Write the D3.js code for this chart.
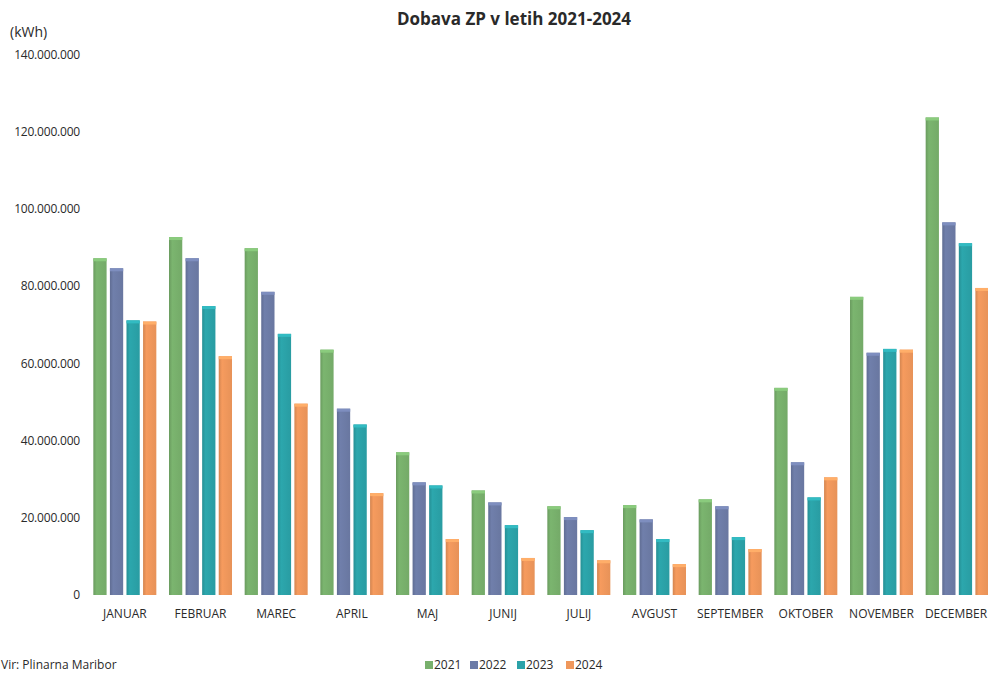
<!DOCTYPE html>
<html>
<head>
<meta charset="utf-8">
<script src="https://cdn.jsdelivr.net/npm/d3@7"></script>
<style>
  html, body { margin: 0; padding: 0; background: #fff; }
  svg { display: block; font-family: "Open Sans", "Noto Sans", sans-serif; }
</style>
</head>
<body>
<svg id="chart" width="988" height="674"></svg>
<script>
const months = ["JANUAR","FEBRUAR","MAREC","APRIL","MAJ","JUNIJ","JULIJ","AVGUST","SEPTEMBER","OKTOBER","NOVEMBER","DECEMBER"];
const years = ["2021","2022","2023","2024"];
const values2021 = [87.3, 92.8, 89.9, 63.6, 37.0, 27.1, 23.0, 23.3, 24.8, 53.7, 77.3, 123.8];
const values2022 = [84.7, 87.3, 78.6, 48.3, 29.2, 24.0, 20.2, 19.6, 23.0, 34.4, 62.8, 96.6];
const values2023 = [71.2, 74.9, 67.7, 44.2, 28.4, 18.1, 16.8, 14.5, 15.0, 25.3, 63.8, 91.2];
const values2024 = [70.9, 61.9, 49.6, 26.4, 14.5, 9.6, 9.0, 8.0, 11.9, 30.5, 63.6, 79.6];
const yTicks = [0, 20, 40, 60, 80, 100, 120, 140];
const colors = ["#78b06c", "#6d7ba6", "#2ba2a8", "#ef975b"];

const series = [values2021, values2022, values2023, values2024];
const svg = d3.select("#chart");

const y = d3.scaleLinear().domain([0, 140]).range([595, 55]);
const x0 = d3.scaleBand().domain(months).range([87, 995]).padding(0);
const groupW = 63;
const x1 = d3.scaleBand().domain(years).range([0, groupW]).paddingInner(0.2).paddingOuter(0);

const defs = svg.append("defs");
colors.forEach((c, i) => {
  const g = defs.append("linearGradient").attr("id", "g" + i).attr("x1", 0).attr("x2", 1).attr("y1", 0).attr("y2", 0);
  const base = d3.color(c);
  g.append("stop").attr("offset", "0%").attr("stop-color", base.darker(0.35));
  g.append("stop").attr("offset", "25%").attr("stop-color", base.brighter(0.08));
  g.append("stop").attr("offset", "100%").attr("stop-color", base.darker(0.1));
});

// Title
svg.append("text").attr("x", 514).attr("y", 25).attr("text-anchor", "middle")
  .attr("font-size", 17).attr("font-weight", "bold").attr("fill", "#2a2a2a")
  .text("Dobava ZP v letih 2021-2024");

svg.append("text").attr("x", 10).attr("y", 37).attr("font-size", 14).attr("fill", "#2a2a2a").text("(kWh)");

// Y axis labels
const fmt = v => v === 0 ? "0" : d3.format(",")(v * 1e6).replace(/,/g, ".");
svg.append("g").selectAll("text").data(yTicks).join("text")
  .attr("x", 80).attr("y", d => y(d) + 4).attr("text-anchor", "end")
  .attr("font-size", 12).attr("letter-spacing", -0.2).attr("fill", "#2a2a2a").text(fmt);

// Bars
const groups = svg.append("g").selectAll("g").data(months).join("g")
  .attr("transform", d => `translate(${x0(d) + (x0.bandwidth() - groupW) / 2},0)`);

groups.each(function(m, mi) {
  const g = d3.select(this);
  years.forEach((yr, si) => {
    const v = series[si][mi];
    const bx = x1(yr), bw = x1.bandwidth();
    g.append("rect").attr("x", bx).attr("y", y(v)).attr("width", bw).attr("height", y(0) - y(v))
      .attr("fill", `url(#g${si})`);
    g.append("rect").attr("x", bx).attr("y", y(v)).attr("width", bw).attr("height", 3)
      .attr("fill", d3.color(colors[si]).brighter(0.4));
  });
});

// X labels
svg.append("g").selectAll("text").data(months).join("text")
  .attr("x", d => Math.min(x0(d) + x0.bandwidth() / 2, 956)).attr("y", 618).attr("text-anchor", "middle")
  .attr("font-size", 12).attr("fill", "#2a2a2a").text(d => d);

// Source
svg.append("text").attr("x", 1).attr("y", 669).attr("font-size", 12).attr("fill", "#2a2a2a").text("Vir: Plinarna Maribor");

// Legend
const legendX = [425, 470, 517, 566];
const lg = svg.append("g").selectAll("g").data(years).join("g")
  .attr("transform", (d, i) => `translate(${legendX[i]},661)`);
lg.append("rect").attr("x", 0).attr("y", 0).attr("width", 8).attr("height", 8).attr("fill", (d, i) => colors[i]);
lg.append("text").attr("x", 9).attr("y", 8).attr("font-size", 12).attr("fill", "#2a2a2a").text(d => d);
</script>
</body>
</html>
